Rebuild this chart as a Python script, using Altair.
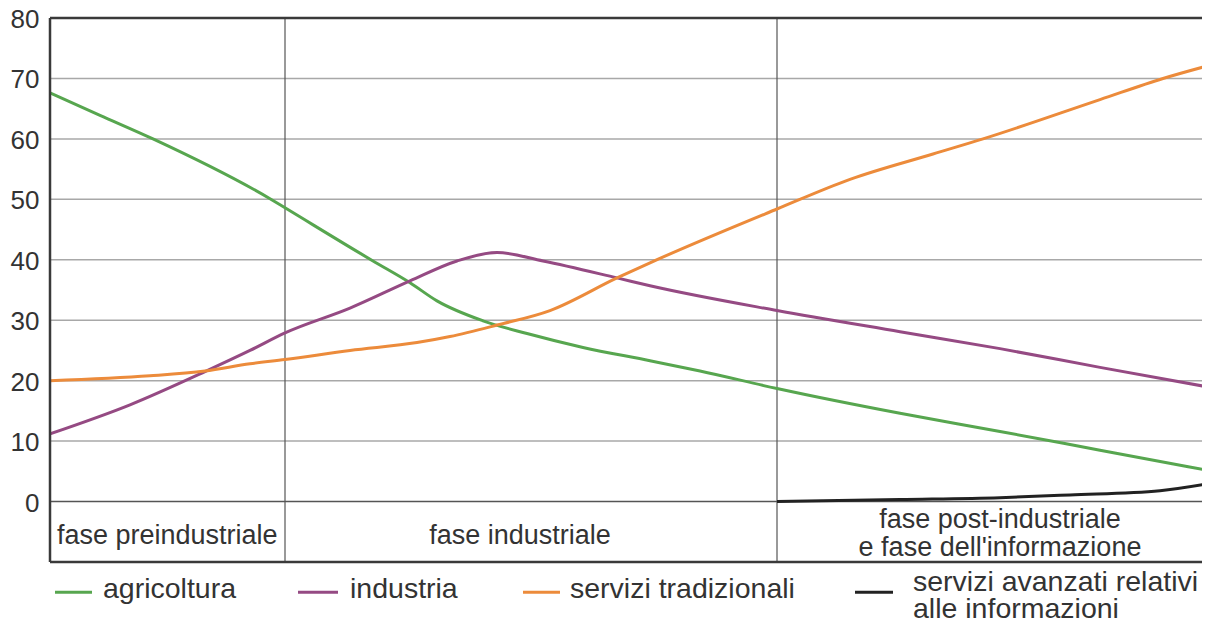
import altair as alt
import pandas as pd

# ---- data (x in arbitrary time units along the horizontal axis) ----
series_names = ["agricoltura", "industria", "servizi tradizionali",
                "servizi avanzati relativi alle informazioni"]
series_colors = ["#57a64f", "#954a83", "#ec8b3b", "#222222"]

agri_t = [0, 50, 103, 220, 235, 323, 360, 387, 433, 477, 533, 600, 650, 727, 850, 950, 1050, 1160]
agri_v = [67.6, 63.9, 60.0, 50.1, 48.6, 39.8, 36.2, 33.2, 29.9, 27.8, 25.5, 23.3, 21.6, 18.7, 14.6, 11.6, 8.5, 5.1]

ind_t = [0, 80, 155, 200, 235, 300, 360, 407, 447, 493, 567, 600, 727, 850, 950, 1050, 1160]
ind_v = [11.2, 16.0, 21.5, 25.0, 27.9, 32.0, 36.5, 39.8, 41.2, 39.8, 37.0, 35.7, 31.6, 28.1, 25.3, 22.2, 18.9]

serv_t = [0, 100, 155, 200, 235, 300, 367, 400, 447, 500, 567, 600, 727, 800, 883, 933, 1050, 1113, 1160]
serv_v = [20.0, 20.8, 21.6, 22.8, 23.5, 25.0, 26.3, 27.3, 29.2, 31.6, 37.0, 39.5, 48.4, 53.3, 57.5, 60.0, 66.5, 70.0, 72.2]

info_t = [727, 850, 950, 1020, 1110, 1160]
info_v = [0.0, 0.35, 0.65, 1.1, 1.8, 3.0]

grid_values = [10, 20, 30, 40, 50, 60, 70]
tick_values = [0, 10, 20, 30, 40, 50, 60, 70, 80]
frame_outer = [80, -10]
zero_line = [0]
left_edge = [0]
phase_edges = [235, 727]

phase_labels = ["fase preindustriale", "fase industriale", "fase post-industriale\ne fase dell'informazione"]
phase_t = [7, 470, 950]
phase_v = [-6.94, -6.94, -4.3]

legend_labels = ["agricoltura", "industria", "servizi tradizionali",
                 "servizi avanzati relativi\nalle informazioni"]
legend_sym_t = [5, 248, 473, 805]
legend_sym_t2 = [42, 288, 510, 843]
legend_text_t = [53, 300, 520, 863]
legend_sym_v = -15.0
legend_text_v = [-16.0, -16.0, -16.0, -14.8]

rows = []
for name, ts, vs in zip(series_names, [agri_t, ind_t, serv_t, info_t], [agri_v, ind_v, serv_v, info_v]):
    for t, v in zip(ts, vs):
        rows.append({"t": t, "v": v, "s": name})
df = pd.DataFrame(rows)

FONT = "Liberation Sans"
TXT = "#333333"

x_scale = alt.Scale(domain=[0, 1152], nice=False, zero=False)
y_scale = alt.Scale(domain=[-10, 80], nice=False, zero=False)
y_axis = alt.Axis(values=tick_values, title=None, domain=False, ticks=False, grid=False,
                  labelFont=FONT, labelFontSize=26, labelColor=TXT, labelPadding=11,
                  labelOffset=1.5)
color_scale = alt.Scale(domain=series_names, range=series_colors)


def X(field):
    return alt.X(field, scale=x_scale, axis=None)


def Y(field):
    return alt.Y(field, scale=y_scale, axis=y_axis, title=None)


grid = alt.Chart(pd.DataFrame({"g": grid_values})).mark_rule(
    color="#a8a8a8", strokeWidth=1.5).encode(y=Y("g:Q"))

outer = alt.Chart(pd.DataFrame({"g": frame_outer})).mark_rule(
    color="#3a3a3a", strokeWidth=2.5).encode(y=Y("g:Q"))

zero = alt.Chart(pd.DataFrame({"g": zero_line})).mark_rule(
    color="#555555", strokeWidth=1.5).encode(y=Y("g:Q"))

left = alt.Chart(pd.DataFrame({"e": left_edge})).mark_rule(
    color="#3a3a3a", strokeWidth=2.5).encode(x=X("e:Q"))

dividers = alt.Chart(pd.DataFrame({"e": phase_edges})).mark_rule(
    color="#555555", strokeWidth=1.2).encode(x=X("e:Q"))

lines = alt.Chart(df).mark_line(strokeWidth=3, interpolate="monotone", clip=True).encode(
    x=X("t:Q"), y=Y("v:Q"),
    color=alt.Color("s:N", scale=color_scale, legend=None),
)

phase_df = pd.DataFrame({"t": phase_t, "v": phase_v, "label": phase_labels})
txt_left = alt.Chart(phase_df.iloc[:1]).mark_text(
    align="left", baseline="alphabetic", font=FONT, fontSize=27, color=TXT
).encode(x=X("t:Q"), y=Y("v:Q"), text="label:N")
txt_center = alt.Chart(phase_df.iloc[1:]).mark_text(
    align="center", baseline="alphabetic", font=FONT, fontSize=27, color=TXT,
    lineBreak="\n", lineHeight=28
).encode(x=X("t:Q"), y=Y("v:Q"), text="label:N")

leg_df = pd.DataFrame({"s": series_names, "label": legend_labels,
                       "t": legend_sym_t, "t2": legend_sym_t2, "tt": legend_text_t,
                       "v": [legend_sym_v] * 4, "tv": legend_text_v})
leg_sym = alt.Chart(leg_df).mark_rule(strokeWidth=3).encode(
    x=X("t:Q"), x2="t2:Q", y=Y("v:Q"),
    color=alt.Color("s:N", scale=color_scale, legend=None),
)
leg_txt = alt.Chart(leg_df).mark_text(
    align="left", baseline="alphabetic", font=FONT, fontSize=28.5, color=TXT,
    lineBreak="\n", lineHeight=27
).encode(x=X("tt:Q"), y=Y("tv:Q"), text="label:N")

chart = alt.layer(grid, zero, dividers, lines, outer, left, txt_left, txt_center,
                  leg_sym, leg_txt).properties(
    width=1152, height=544,
    padding={"left": 42, "top": 10, "right": 0, "bottom": 62},
    autosize=alt.AutoSizeParams(type="none"),
).configure_view(stroke=None)

chart.save("out.html", embed_options={"renderer": "svg", "actions": False})
